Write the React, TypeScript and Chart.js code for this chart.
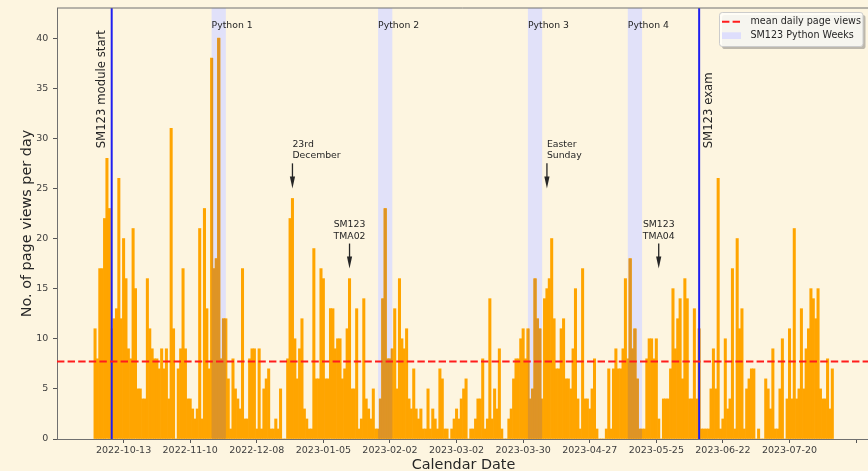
import { useEffect, useRef } from 'react';
import { Chart, registerables } from 'chart.js';

Chart.register(...registerables);

// ---------------- data ----------------
const FIRST_DAY = '2022-10-01';
const viewsOct2022 = [11, 8, 17, 17, 22, 28, 23, 11, 12, 13, 26, 12, 20, 16, 9, 8, 21, 15, 5, 5, 4, 4, 16, 11, 9, 8, 8, 7, 9, 7, 9];
const viewsNov2022 = [4, 31, 11, 0, 7, 9, 17, 9, 4, 4, 3, 2, 3, 21, 2, 23, 13, 7, 38, 17, 18, 40, 8, 12, 12, 6, 1, 8, 5, 4];
const viewsDec2022 = [3, 17, 2, 2, 8, 9, 9, 1, 9, 1, 5, 6, 7, 1, 1, 2, 1, 5, 0, 0, 8, 22, 24, 10, 6, 9, 12, 3, 2, 1, 1];
const viewsJan2023 = [19, 6, 6, 17, 16, 6, 6, 13, 13, 9, 10, 10, 6, 7, 11, 16, 5, 5, 13, 1, 2, 14, 4, 3, 2, 5, 1, 1, 4, 14, 23];
const viewsFeb2023 = [8, 8, 9, 13, 5, 16, 10, 9, 11, 4, 3, 7, 3, 2, 3, 1, 1, 5, 1, 3, 2, 1, 7, 6, 1, 1, 0, 1];
const viewsMar2023 = [2, 3, 2, 4, 5, 6, 0, 1, 1, 2, 4, 4, 8, 1, 2, 14, 2, 5, 3, 9, 1, 0, 0, 2, 3, 6, 8, 8, 10, 11, 8];
const viewsApr2023 = [11, 4, 5, 16, 12, 11, 4, 14, 15, 16, 20, 12, 7, 7, 11, 12, 6, 6, 5, 9, 15, 4, 1, 17, 4, 4, 3, 5, 8, 1];
const viewsMay2023 = [0, 0, 0, 1, 7, 1, 7, 9, 7, 7, 9, 16, 8, 18, 9, 11, 6, 1, 1, 1, 8, 10, 10, 8, 10, 2, 0, 4, 4, 4, 7];
const viewsJun2023 = [15, 9, 12, 14, 6, 16, 14, 4, 4, 13, 4, 11, 1, 1, 1, 1, 5, 9, 5, 26, 1, 2, 10, 3, 4, 17, 1, 20, 11, 13];
const viewsJul2023 = [1, 5, 6, 7, 7, 0, 1, 0, 0, 6, 5, 3, 9, 1, 1, 5, 10, 0, 4, 11, 4, 21, 4, 5, 13, 5, 9, 11, 15, 14, 12];
const viewsAug2023 = [15, 5, 4, 4, 8, 3, 7];

const xTickDates = ['2022-10-13', '2022-11-10', '2022-12-08', '2023-01-05', '2023-02-02', '2023-03-02', '2023-03-30', '2023-04-27', '2023-05-25', '2023-06-22', '2023-07-20', '2023-08-17'];
const xTickLabels = ['2022-10-13', '2022-11-10', '2022-12-08', '2023-01-05', '2023-02-02', '2023-03-02', '2023-03-30', '2023-04-27', '2023-05-25', '2023-06-22', '2023-07-20', ''];
const yTickValues = [0, 5, 10, 15, 20, 25, 30, 35, 40];
const AXIS_START = '2022-09-15';
const AXIS_END = '2023-08-22';
const Y_MAX = 43;

const pythonWeekLabels = ['Python 1', 'Python 2', 'Python 3', 'Python 4'];
const pythonWeekStarts = ['2022-11-19', '2023-01-28', '2023-04-01', '2023-05-13'];
const pythonWeekEnds = ['2022-11-25', '2023-02-03', '2023-04-07', '2023-05-19'];

const markerDates = ['2022-10-08', '2023-06-12'];
const markerLabels = ['SM123 module start', 'SM123 exam'];
const MARKER_LABEL_LEVEL = 29;
const PYTHON_LABEL_LEVEL = 41;

const noteDates = ['2022-12-23', '2023-01-16', '2023-04-09', '2023-05-26'];
const noteLines = [['23rd', 'December'], ['SM123', 'TMA02'], ['Easter', 'Sunday'], ['SM123', 'TMA04']];
const noteTextLevels = [28, 20, 28, 20];
const noteTipLevels = [25, 17, 25, 17];

// ---------------- styling ----------------
const BG = '#fdf5e0';
const ORANGE = '#ffa500';
const ORANGE_IN_SPAN = 'rgb(222,148,38)';
const SPAN_FILL = 'rgb(225,225,249)';
const LEGEND_PATCH = 'rgb(222,222,252)';
const BLUE = 'rgb(32,32,240)';
const RED = 'rgb(255,28,28)';
const TEXT = '#262626';
const SPINE = '#707070';
const FONT = 'DejaVu Sans';

const DAY_MS = 86400000;
const dayIndex = (d: string) =>
  Math.round((Date.parse(d + 'T00:00:00Z') - Date.parse(FIRST_DAY + 'T00:00:00Z')) / DAY_MS);

export default function App() {
  const ref = useRef<HTMLCanvasElement>(null);

  useEffect(() => {
    document.body.style.margin = '0';
    const canvas = ref.current!;
    const dailyViews = [
      ...viewsOct2022, ...viewsNov2022, ...viewsDec2022, ...viewsJan2023, ...viewsFeb2023,
      ...viewsMar2023, ...viewsApr2023, ...viewsMay2023, ...viewsJun2023, ...viewsJul2023, ...viewsAug2023,
    ];
    const meanViews = dailyViews.reduce((a, b) => a + b, 0) / dailyViews.length;
    const xMin = dayIndex(AXIS_START);
    const xMax = dayIndex(AXIS_END);
    const spans = pythonWeekStarts.map((s, k) => ({
      start: dayIndex(s),
      end: dayIndex(pythonWeekEnds[k]),
      label: pythonWeekLabels[k],
    }));
    const markers = markerDates.map((d) => dayIndex(d));

    const plugin = {
      id: 'annotations',
      beforeDraw(chart: any) {
        const { ctx, width, height } = chart;
        ctx.save();
        ctx.fillStyle = BG;
        ctx.fillRect(0, 0, width, height);
        ctx.restore();
      },
      beforeDatasetsDraw(chart: any) {
        const { ctx, chartArea: a, scales } = chart;
        ctx.save();
        ctx.fillStyle = SPAN_FILL;
        spans.forEach((s) => {
          const x0 = scales.x.getPixelForValue(s.start);
          const x1 = scales.x.getPixelForValue(s.end);
          ctx.fillRect(x0, a.top, x1 - x0, a.bottom - a.top);
        });
        ctx.restore();
      },
      afterDatasetDraw(chart: any, args: any) {
        if (args.index !== 0) return;
        const { ctx, chartArea: a, scales } = chart;
        const meta = args.meta;
        ctx.save();
        ctx.fillStyle = ORANGE_IN_SPAN;
        spans.forEach((s) => {
          const x0 = scales.x.getPixelForValue(s.start);
          const x1 = scales.x.getPixelForValue(s.end);
          ctx.save();
          ctx.beginPath();
          ctx.rect(x0, a.top, x1 - x0, a.bottom - a.top);
          ctx.clip();
          meta.data.forEach((el: any, i: number) => {
            if (i < s.start - 1 || i > s.end + 1) return;
            const p = el.getProps(['x', 'y', 'base', 'width'], true);
            ctx.fillRect(p.x - p.width / 2 - 0.33, Math.min(p.y, p.base), p.width + 0.66, Math.abs(p.base - p.y));
          });
          ctx.restore();
        });
        ctx.restore();
      },
      afterDraw(chart: any) {
        const { ctx, chartArea: a, scales } = chart;
        const X = (v: number) => scales.x.getPixelForValue(v);
        const Y = (v: number) => scales.y.getPixelForValue(v);
        ctx.save();

        // top spine
        ctx.strokeStyle = SPINE;
        ctx.lineWidth = 1;
        ctx.beginPath();
        ctx.moveTo(a.left, a.top);
        ctx.lineTo(a.right, a.top);
        ctx.stroke();

        // python week labels
        ctx.fillStyle = TEXT;
        ctx.font = `9.3px "${FONT}"`;
        ctx.textAlign = 'left';
        ctx.textBaseline = 'alphabetic';
        spans.forEach((s) => ctx.fillText(s.label, X(s.start), Y(PYTHON_LABEL_LEVEL)));

        // marker labels (rotated)
        ctx.font = `11.7px "${FONT}"`;
        markers.forEach((m, k) => {
          const off = k === 0 ? -9.5 : 10;
          ctx.save();
          ctx.translate(X(m) + off, Y(MARKER_LABEL_LEVEL));
          ctx.rotate(-Math.PI / 2);
          ctx.textAlign = 'left';
          ctx.textBaseline = 'middle';
          ctx.fillText(markerLabels[k], 0, 0);
          ctx.restore();
        });

        // notes with arrows
        ctx.font = `9.3px "${FONT}"`;
        noteDates.forEach((d, k) => {
          const xi = X(dayIndex(d));
          const lines = noteLines[k];
          const base = Y(noteTextLevels[k]);
          ctx.textAlign = k % 2 === 0 ? 'left' : 'center';
          ctx.textBaseline = 'alphabetic';
          ctx.fillStyle = TEXT;
          lines.forEach((ln, j) => ctx.fillText(ln, xi, base - (lines.length - 1 - j) * 11.3));
          const y0 = Y(noteTextLevels[k] - 0.5);
          const y1 = Y(noteTipLevels[k]);
          const headLen = 12;
          const headHalf = 2.6;
          ctx.strokeStyle = TEXT;
          ctx.lineWidth = 1.3;
          ctx.beginPath();
          ctx.moveTo(xi, y0);
          ctx.lineTo(xi, y1 - headLen + 1);
          ctx.stroke();
          ctx.beginPath();
          ctx.moveTo(xi - headHalf, y1 - headLen);
          ctx.lineTo(xi + headHalf, y1 - headLen);
          ctx.lineTo(xi, y1);
          ctx.closePath();
          ctx.fill();
        });

        // axis titles
        ctx.fillStyle = TEXT;
        ctx.font = `14.4px "${FONT}"`;
        ctx.textAlign = 'center';
        ctx.textBaseline = 'alphabetic';
        ctx.fillText('Calendar Date', (a.left + a.right) / 2 + 1, 469);
        ctx.save();
        ctx.translate(30.5, (a.top + a.bottom) / 2);
        ctx.rotate(-Math.PI / 2);
        ctx.fillText('No. of page views per day', 0, 0);
        ctx.restore();

        // legend
        const lx = 719.5, ly = 12.5, lw = 143.5, lh = 34, r = 2.8;
        const roundRect = (x: number, y: number, w: number, h: number) => {
          ctx.beginPath();
          ctx.moveTo(x + r, y);
          ctx.lineTo(x + w - r, y);
          ctx.arcTo(x + w, y, x + w, y + r, r);
          ctx.lineTo(x + w, y + h - r);
          ctx.arcTo(x + w, y + h, x + w - r, y + h, r);
          ctx.lineTo(x + r, y + h);
          ctx.arcTo(x, y + h, x, y + h - r, r);
          ctx.lineTo(x, y + r);
          ctx.arcTo(x, y, x + r, y, r);
          ctx.closePath();
        };
        ctx.fillStyle = 'rgba(110,110,110,0.45)';
        roundRect(lx + 2.5, ly + 2.5, lw, lh);
        ctx.fill();
        ctx.fillStyle = 'rgba(255,255,255,0.85)';
        roundRect(lx, ly, lw, lh);
        ctx.fill();
        ctx.fillStyle = BG;
        ctx.globalAlpha = 0.15;
        roundRect(lx, ly, lw, lh);
        ctx.fill();
        ctx.globalAlpha = 1;
        ctx.strokeStyle = '#cccccc';
        ctx.lineWidth = 1;
        roundRect(lx, ly, lw, lh);
        ctx.stroke();

        ctx.strokeStyle = RED;
        ctx.lineWidth = 2;
        ctx.setLineDash([7.4, 3.2]);
        ctx.beginPath();
        ctx.moveTo(722, 21.7);
        ctx.lineTo(741, 21.7);
        ctx.stroke();
        ctx.setLineDash([]);
        ctx.fillStyle = LEGEND_PATCH;
        ctx.fillRect(722, 32.3, 19, 6.7);

        ctx.fillStyle = TEXT;
        ctx.font = `9.6px "${FONT}"`;
        ctx.textAlign = 'left';
        ctx.textBaseline = 'middle';
        ctx.fillText('mean daily page views', 750.5, 21.7);
        ctx.fillText('SM123 Python Weeks', 750.5, 35.7);

        ctx.restore();
      },
    };

    Chart.defaults.font.family = FONT;

    const chart = new Chart(canvas, {
      type: 'bar',
      data: {
        datasets: [
          {
            type: 'bar',
            label: 'daily page views',
            data: dailyViews.map((v, i) => ({ x: i, y: v })),
            backgroundColor: ORANGE,
            borderWidth: 0,
            barPercentage: 1,
            categoryPercentage: 1,
            order: 3,
          } as any,
          {
            type: 'line',
            label: markerLabels[0],
            data: [{ x: markers[0], y: 0 }, { x: markers[0], y: Y_MAX }],
            borderColor: BLUE,
            borderWidth: 2,
            pointRadius: 0,
            order: 2,
          },
          {
            type: 'line',
            label: markerLabels[1],
            data: [{ x: markers[1], y: 0 }, { x: markers[1], y: Y_MAX }],
            borderColor: BLUE,
            borderWidth: 2,
            pointRadius: 0,
            order: 2,
          },
          {
            type: 'line',
            label: 'mean daily page views',
            data: [{ x: xMin, y: meanViews }, { x: xMax, y: meanViews }],
            borderColor: RED,
            borderWidth: 2,
            borderDash: [7.4, 3.2],
            pointRadius: 0,
            order: 1,
          },
        ],
      },
      options: {
        animation: false,
        responsive: false,
        devicePixelRatio: 1,
        events: [],
        layout: { padding: { top: 8, left: 0, right: 0, bottom: 0 } },
        plugins: { legend: { display: false }, tooltip: { enabled: false } },
        scales: {
          x: {
            type: 'linear',
            min: xMin,
            max: xMax,
            offset: false,
            grid: { display: true, offset: false, drawOnChartArea: false, drawTicks: true, tickLength: 4, tickColor: '#555', tickWidth: 1 },
            border: { display: true, color: SPINE, width: 1 },
            ticks: {
              autoSkip: false,
              maxRotation: 0,
              minRotation: 0,
              padding: 1.8,
              color: '#3d3d3d',
              font: { size: 9.5, family: FONT, lineHeight: 1.2 },
              callback: (value: any) => {
                const k = xTickDates.findIndex((d) => dayIndex(d) === Number(value));
                return k >= 0 ? xTickLabels[k] : '';
              },
            },
            afterBuildTicks: (scale: any) => {
              scale.ticks = xTickDates.map((d) => ({ value: dayIndex(d) }));
            },
            afterFit: (scale: any) => {
              scale.height = 32;
              scale.paddingLeft = 0;
              scale.paddingRight = 0;
            },
          } as any,
          y: {
            type: 'linear',
            min: 0,
            max: Y_MAX,
            grid: { display: true, drawOnChartArea: false, drawTicks: true, tickLength: 4, tickColor: '#555', tickWidth: 1 },
            border: { display: true, color: SPINE, width: 1 },
            ticks: {
              padding: 4.7,
              color: '#3d3d3d',
              font: { size: 9.5, family: FONT, lineHeight: 1.2 },
            },
            afterBuildTicks: (scale: any) => {
              scale.ticks = yTickValues.map((v) => ({ value: v }));
            },
            afterFit: (scale: any) => {
              scale.width = 57;
              scale.paddingTop = 0;
              scale.paddingBottom = 0;
            },
          } as any,
        },
      },
      plugins: [plugin],
    });

    return () => chart.destroy();
  }, []);

  return (
    <div style={{ width: 868, height: 471, background: BG, overflow: 'hidden' }}>
      <canvas ref={ref} width={868} height={471} style={{ display: 'block', width: 868, height: 471 }} />
    </div>
  );
}
